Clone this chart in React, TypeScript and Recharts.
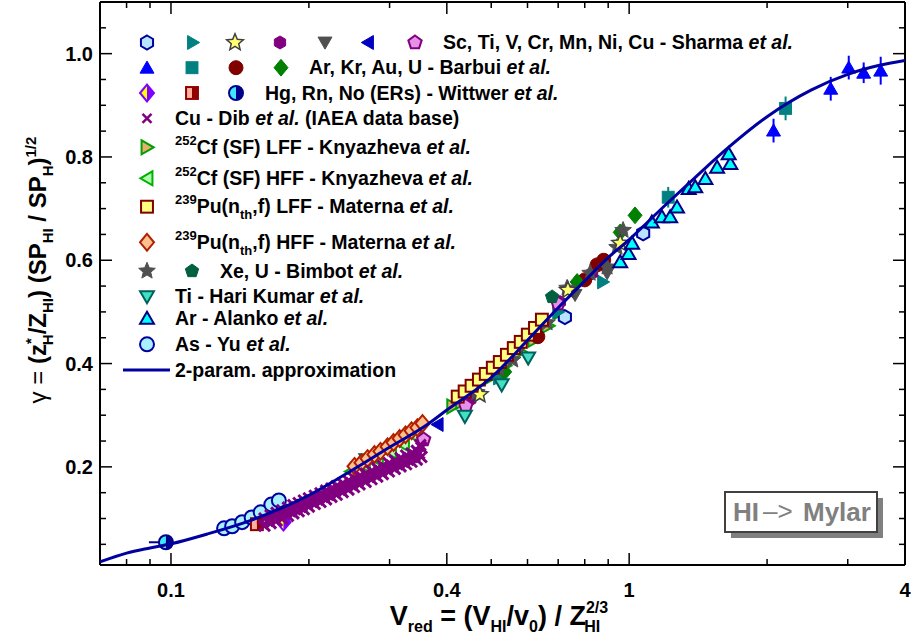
import React from 'react';
import { ScatterChart, Scatter, XAxis, YAxis, ErrorBar } from 'recharts';

const FONT = '"Liberation Sans", Arial, Helvetica, sans-serif';

// axis ticks (log x, linear y); labelled ones listed separately
const xTicks = [0.08, 0.09, 0.1, 0.2, 0.3, 0.4, 0.5, 0.6, 0.7, 0.8, 0.9, 1, 2, 3, 4];
const xLabels = [0.1, 0.4, 1, 4];
const yTicks = [0.05, 0.1, 0.15, 0.2, 0.25, 0.3, 0.35, 0.4, 0.45, 0.5, 0.55, 0.6, 0.65, 0.7, 0.75, 0.8, 0.85, 0.9, 0.95, 1.0, 1.05];
const yLabels = [0.2, 0.4, 0.6, 0.8, 1.0];

// Sharma et al.
const sharmaSc = [[0.724, 0.49], [1.073, 0.652]];
const sharmaTi = [[0.877, 0.558], [0.52, 0.372], [0.7, 0.5]];
const sharmaV = [[0.735, 0.542], [0.956, 0.633], [0.472, 0.34]];
const sharmaCr = [[0.706, 0.519], [0.83, 0.575], [0.45, 0.33]];
const sharmaMn = [[0.762, 0.533], [0.895, 0.575], [0.58, 0.43]];
const sharmaNi = [[0.382, 0.282]];
const sharmaCu = [[0.356, 0.253], [0.7, 0.516], [0.44, 0.318]];

// Barbui et al. (x, y, y-error)
const barbuiAr = [[2.066, 0.851, 0.023], [2.754, 0.932, 0.023], [3.015, 0.973, 0.023], [3.25, 0.963, 0.02], [3.54, 0.967, 0.027]];
const barbuiKr = [[2.195, 0.894, 0.023], [1.217, 0.722, 0.02]];
const barbuiAu = [[0.851, 0.591], [0.8, 0.562], [0.632, 0.452], [0.88, 0.6]];
const barbuiU = [[0.77, 0.558], [0.535, 0.384], [1.03, 0.687], [0.956, 0.654]];

// Wittwer et al.
const wittwerHg = [[0.176, 0.093]];
const wittwerRn = [[0.154, 0.089]];
const wittwerNo = [[0.0975, 0.054]];
const wittwerNoErr = [0.008, 0.0];

// Dib et al. (IAEA data base), Cu
const dibCu = [
  [0.16, 0.086], [0.16, 0.1], [0.165, 0.091], [0.165, 0.106], [0.17, 0.096], [0.17, 0.111],
  [0.175, 0.1], [0.175, 0.116], [0.18, 0.105], [0.18, 0.121], [0.185, 0.11], [0.185, 0.126],
  [0.19, 0.114], [0.19, 0.13], [0.195, 0.118], [0.195, 0.135], [0.2, 0.123], [0.2, 0.139],
  [0.206, 0.128], [0.206, 0.144], [0.212, 0.132], [0.212, 0.149], [0.218, 0.137], [0.218, 0.154],
  [0.224, 0.142], [0.224, 0.158], [0.23, 0.146], [0.23, 0.163], [0.237, 0.151], [0.237, 0.168],
  [0.244, 0.156], [0.244, 0.173], [0.251, 0.161], [0.251, 0.178], [0.258, 0.166], [0.258, 0.182],
  [0.266, 0.171], [0.266, 0.187], [0.274, 0.176], [0.274, 0.192], [0.282, 0.181], [0.282, 0.197],
  [0.29, 0.186], [0.29, 0.202], [0.299, 0.191], [0.299, 0.207], [0.308, 0.196], [0.308, 0.212],
  [0.317, 0.201], [0.317, 0.217], [0.326, 0.205], [0.326, 0.222], [0.335, 0.21], [0.335, 0.226],
  [0.344, 0.214], [0.344, 0.231], [0.352, 0.219], [0.352, 0.237],
  [0.1625, 0.096], [0.1675, 0.101], [0.1725, 0.106], [0.1775, 0.111], [0.1825, 0.116], [0.1875, 0.12],
  [0.1925, 0.124], [0.1975, 0.129], [0.203, 0.134], [0.209, 0.139], [0.215, 0.143], [0.221, 0.148],
  [0.227, 0.152], [0.2335, 0.157], [0.2405, 0.162], [0.2475, 0.167], [0.2545, 0.172], [0.262, 0.177],
  [0.27, 0.182], [0.278, 0.187], [0.286, 0.192], [0.2945, 0.197], [0.3035, 0.202], [0.3125, 0.207],
  [0.3215, 0.211], [0.3305, 0.216], [0.3395, 0.221], [0.348, 0.226], [0.35, 0.242],
];

// 252Cf (SF), Knyazheva et al.
const cfLff = [[0.412, 0.317], [0.431, 0.326], [0.4625, 0.349], [0.496, 0.373], [0.5355, 0.396], [0.5775, 0.423], [0.6195, 0.446], [0.665, 0.473], [0.7065, 0.5]];
const cfHff = [[0.2477, 0.191], [0.2644, 0.203], [0.2823, 0.214], [0.3014, 0.23], [0.3218, 0.243], [0.342, 0.259]];

// 239Pu(nth,f), Materna et al.
const puLff = [[0.4225, 0.336], [0.4375, 0.346], [0.453, 0.357], [0.47, 0.369], [0.4865, 0.38], [0.504, 0.392], [0.522, 0.403], [0.541, 0.417], [0.56, 0.43], [0.58, 0.442], [0.601, 0.456], [0.623, 0.469], [0.645, 0.485]];
const puHff = [[0.2515, 0.201], [0.2605, 0.208], [0.2685, 0.216], [0.278, 0.224], [0.2865, 0.23], [0.297, 0.239], [0.306, 0.247], [0.3155, 0.255], [0.325, 0.262], [0.335, 0.27], [0.345, 0.276], [0.354, 0.284]];

// Bimbot et al.
const bimbotXe = [[0.732, 0.546], [0.822, 0.575], [0.941, 0.625], [0.895, 0.587], [0.662, 0.479], [0.557, 0.407], [0.97, 0.658], [0.465, 0.344], [0.52, 0.39]];
const bimbotU = [[0.679, 0.529]];

// Hari Kumar, Alanko, Yu
const hariKumarTi = [[0.267, 0.214], [0.438, 0.298], [0.527, 0.359], [0.602, 0.411]];
const alankoAr = [[0.956, 0.597], [0.997, 0.613], [1.015, 0.633], [1.121, 0.674], [1.179, 0.684], [1.229, 0.684], [1.272, 0.703], [1.349, 0.739], [1.394, 0.742], [1.467, 0.758], [1.556, 0.78], [1.663, 0.787], [1.649, 0.806]];
const yuAs = [[0.1306, 0.081], [0.136, 0.085], [0.143, 0.093], [0.15, 0.102], [0.157, 0.112], [0.1656, 0.127], [0.172, 0.135]];

// 2-param. approximation
const approxCurve = [
  [0.07, 0.016], [0.08, 0.033], [0.09, 0.043], [0.1, 0.051], [0.12, 0.07], [0.15, 0.097], [0.2, 0.145],
  [0.25, 0.195], [0.3, 0.238], [0.36, 0.28], [0.4, 0.31], [0.5, 0.373], [0.6, 0.445], [0.7, 0.508],
  [0.8, 0.56], [0.9, 0.605], [1.0, 0.64], [1.2, 0.707], [1.4, 0.762], [1.64, 0.817], [2.0, 0.878],
  [2.5, 0.93], [3.0, 0.96], [3.5, 0.977], [4.0, 0.987],
];

const toPts = (arr: number[][]) => arr.map(([x, y, e]) => ({ x, y, ey: e ?? 0 }));

type Kind = 'circle' | 'square' | 'diamond' | 'triU' | 'triD' | 'triL' | 'triR' | 'hex' | 'pent' | 'star' | 'cross' | 'halfDiamond' | 'halfSquare' | 'halfCircle';
interface MStyle { kind: Kind; fill: string; stroke?: string; fill2?: string; sw?: number; r?: number }

const ST: Record<string, MStyle> = {
  sc: { kind: 'hex', fill: '#b8e4ff', stroke: '#00009a', sw: 2 },
  ti: { kind: 'triR', fill: '#008080' },
  v: { kind: 'star', fill: '#ffff70', stroke: '#404040', sw: 1.5 },
  cr: { kind: 'hex', fill: '#800080', r: 6.5 },
  mn: { kind: 'triD', fill: '#505050' },
  ni: { kind: 'triL', fill: '#0000c0' },
  cu: { kind: 'pent', fill: '#e890e8', stroke: '#800080', sw: 2 },
  ar: { kind: 'triU', fill: '#0000ff' },
  kr: { kind: 'square', fill: '#008080' },
  au: { kind: 'circle', fill: '#800000' },
  u: { kind: 'diamond', fill: '#008000' },
  hg: { kind: 'halfDiamond', fill: '#ffff00', fill2: '#8000ff', stroke: '#8000ff', sw: 2 },
  rn: { kind: 'halfSquare', fill: '#ffb0a0', fill2: '#900000', stroke: '#900000', sw: 2 },
  no: { kind: 'halfCircle', fill: '#40e8ff', fill2: '#00008a', stroke: '#00008a', sw: 2 },
  dib: { kind: 'cross', fill: '#800080', sw: 3, r: 5.5 },
  cfL: { kind: 'triR', fill: '#e8b070', stroke: '#00a000', sw: 2 },
  cfH: { kind: 'triL', fill: '#b0ffb0', stroke: '#00b000', sw: 2 },
  puL: { kind: 'square', fill: '#ffff80', stroke: '#800000', sw: 2 },
  puH: { kind: 'diamond', fill: '#ffc090', stroke: '#b02000', sw: 2 },
  xe: { kind: 'star', fill: '#505050' },
  bu: { kind: 'pent', fill: '#006040' },
  hk: { kind: 'triD', fill: '#40e0c0', stroke: '#006060', sw: 2 },
  al: { kind: 'triU', fill: '#00ffff', stroke: '#000080', sw: 2 },
  yu: { kind: 'circle', fill: '#a8f0ff', stroke: '#0000a0', sw: 2 },
};

function poly(cx: number, cy: number, r: number, n: number, rot: number, inner = 0) {
  const total = inner ? n * 2 : n;
  const pts: string[] = [];
  for (let i = 0; i < total; i++) {
    const a = ((rot + (360 / total) * i) * Math.PI) / 180;
    const rr = inner && i % 2 === 1 ? r * inner : r;
    pts.push(`${(cx + rr * Math.cos(a)).toFixed(2)},${(cy + rr * Math.sin(a)).toFixed(2)}`);
  }
  return pts.join(' ');
}

function Marker({ cx, cy, st }: { cx: number; cy: number; st: MStyle }) {
  if (cx == null || cy == null) return <g />;
  const r = st.r ?? 7;
  const stroke = st.stroke ?? st.fill;
  const sw = st.sw ?? 1;
  const base = { fill: st.fill, stroke, strokeWidth: sw };
  switch (st.kind) {
    case 'circle':
      return <circle cx={cx} cy={cy} r={r} {...base} />;
    case 'square': {
      const h = r * 0.85;
      return <rect x={cx - h} y={cy - h} width={2 * h} height={2 * h} {...base} />;
    }
    case 'diamond':
      return <polygon points={`${cx},${cy - r * 1.2} ${cx + r},${cy} ${cx},${cy + r * 1.2} ${cx - r},${cy}`} {...base} />;
    case 'triU':
      return <polygon points={poly(cx, cy + r * 0.2, r * 1.15, 3, -90)} {...base} />;
    case 'triD':
      return <polygon points={poly(cx, cy - r * 0.2, r * 1.15, 3, 90)} {...base} />;
    case 'triL':
      return <polygon points={poly(cx + r * 0.2, cy, r * 1.15, 3, 180)} {...base} />;
    case 'triR':
      return <polygon points={poly(cx - r * 0.2, cy, r * 1.15, 3, 0)} {...base} />;
    case 'hex':
      return <polygon points={poly(cx, cy, r, 6, -90)} {...base} />;
    case 'pent':
      return <polygon points={poly(cx, cy, r, 5, -90)} {...base} />;
    case 'star':
      return <polygon points={poly(cx, cy, r * 1.25, 5, -90, 0.45)} {...base} />;
    case 'cross':
      return (
        <g stroke={st.fill} strokeWidth={sw}>
          <line x1={cx - r} y1={cy - r} x2={cx + r} y2={cy + r} />
          <line x1={cx - r} y1={cy + r} x2={cx + r} y2={cy - r} />
        </g>
      );
    case 'halfDiamond': {
      const t = cy - r * 1.2, b = cy + r * 1.2;
      return (
        <g>
          <polygon points={`${cx},${t} ${cx},${b} ${cx - r},${cy}`} fill={st.fill} />
          <polygon points={`${cx},${t} ${cx + r},${cy} ${cx},${b}`} fill={st.fill2} />
          <polygon points={`${cx},${t} ${cx + r},${cy} ${cx},${b} ${cx - r},${cy}`} fill="none" stroke={stroke} strokeWidth={sw} />
        </g>
      );
    }
    case 'halfSquare': {
      const h = r * 0.85;
      return (
        <g>
          <rect x={cx - h} y={cy - h} width={h} height={2 * h} fill={st.fill} />
          <rect x={cx} y={cy - h} width={h} height={2 * h} fill={st.fill2} />
          <rect x={cx - h} y={cy - h} width={2 * h} height={2 * h} fill="none" stroke={stroke} strokeWidth={sw} />
        </g>
      );
    }
    case 'halfCircle':
      return (
        <g>
          <path d={`M${cx},${cy - r} A${r},${r} 0 0 0 ${cx},${cy + r} Z`} fill={st.fill} />
          <path d={`M${cx},${cy - r} A${r},${r} 0 0 1 ${cx},${cy + r} Z`} fill={st.fill2} />
          <circle cx={cx} cy={cy} r={r} fill="none" stroke={stroke} strokeWidth={sw} />
        </g>
      );
    default:
      return <g />;
  }
}

const near = (list: number[], v: number) => list.some((m) => Math.abs(m - v) < 1e-9);
const labelStyle = { fontFamily: FONT, fontWeight: 700, fontSize: 20, fill: '#000' };

function BottomTick(props: any) {
  const { x, y, payload } = props;
  const major = near(xLabels, payload.value);
  return (
    <g>
      <line x1={x} x2={x} y1={y} y2={y - (major ? 12 : 6)} stroke="#000" strokeWidth={1.5} />
      {major && (
        <text x={x} y={y + 32} textAnchor="middle" style={labelStyle}>
          {String(payload.value)}
        </text>
      )}
    </g>
  );
}

function TopTick(props: any) {
  const { x, y, payload } = props;
  const major = near(xLabels, payload.value);
  return <line x1={x} x2={x} y1={y} y2={y + (major ? 12 : 6)} stroke="#000" strokeWidth={1.5} />;
}

function LeftTick(props: any) {
  const { x, y, payload } = props;
  const major = near(yLabels, payload.value);
  return (
    <g>
      <line x1={x} x2={x + (major ? 12 : 6)} y1={y} y2={y} stroke="#000" strokeWidth={1.5} />
      {major && (
        <text x={x - 7} y={y + 7} textAnchor="end" style={labelStyle}>
          {payload.value.toFixed(1)}
        </text>
      )}
    </g>
  );
}

function RightTick(props: any) {
  const { x, y, payload } = props;
  const major = near(yLabels, payload.value);
  return <line x1={x} x2={x - (major ? 12 : 6)} y1={y} y2={y} stroke="#000" strokeWidth={1.5} />;
}

const axisLine = { stroke: '#000', strokeWidth: 2 };

const series: { key: string; data: number[][]; st: MStyle }[] = [
  { key: 'cfH', data: cfHff, st: ST.cfH },
  { key: 'cfL', data: cfLff, st: ST.cfL },
  { key: 'sc', data: sharmaSc, st: ST.sc },
  { key: 'ti', data: sharmaTi, st: ST.ti },
  { key: 'cr', data: sharmaCr, st: ST.cr },
  { key: 'mn', data: sharmaMn, st: ST.mn },
  { key: 'ni', data: sharmaNi, st: ST.ni },
  { key: 'cu', data: sharmaCu, st: ST.cu },
  { key: 'au', data: barbuiAu, st: ST.au },
  { key: 'u', data: barbuiU, st: ST.u },
  { key: 'xe', data: bimbotXe, st: ST.xe },
  { key: 'v', data: sharmaV, st: ST.v },
  { key: 'bu', data: bimbotU, st: ST.bu },
  { key: 'hk', data: hariKumarTi, st: ST.hk },
  { key: 'puH', data: puHff, st: ST.puH },
  { key: 'puL', data: puLff, st: ST.puL },
  { key: 'al', data: alankoAr, st: ST.al },
  { key: 'yu', data: yuAs, st: ST.yu },
  { key: 'hg', data: wittwerHg, st: ST.hg },
  { key: 'rn', data: wittwerRn, st: ST.rn },
  { key: 'dib', data: dibCu, st: ST.dib },
];

const shapeOf = (st: MStyle) => (p: any) => <Marker cx={p.cx} cy={p.cy} st={st} />;
const noShape = () => <g />;

const legendText = { fontFamily: FONT, fontWeight: 700, fontSize: 19.5, fill: '#000' };
const it = { fontStyle: 'italic' as const };

function LegendBlock() {
  const sup = (t: string) => (
    <tspan fontSize={13} dy={-9}>{t}</tspan>
  );
  return (
    <g>
      {[['sc', 147], ['ti', 193], ['v', 235], ['cr', 280], ['mn', 325], ['ni', 368], ['cu', 415]].map(([k, x]) => (
        <Marker key={k as string} cx={x as number} cy={42.5} st={ST[k as string]} />
      ))}
      <text x={443} y={49} style={legendText}>Sc, Ti, V, Cr, Mn, Ni, Cu - Sharma <tspan {...it}>et al.</tspan></text>
      {[['ar', 147], ['kr', 192], ['au', 236], ['u', 281]].map(([k, x]) => (
        <Marker key={k as string} cx={x as number} cy={67.7} st={ST[k as string]} />
      ))}
      <text x={309} y={74} style={legendText}>Ar, Kr, Au, U - Barbui <tspan {...it}>et al.</tspan></text>
      {[['hg', 147], ['rn', 192], ['no', 236]].map(([k, x]) => (
        <Marker key={k as string} cx={x as number} cy={93} st={ST[k as string]} />
      ))}
      <text x={265} y={99.5} style={legendText}>Hg, Rn, No (ERs) - Wittwer <tspan {...it}>et al.</tspan></text>
      <Marker cx={147} cy={118.3} st={{ ...ST.dib, r: 4.5, sw: 2.5 }} />
      <text x={175} y={124.5} style={legendText}>Cu - Dib <tspan {...it}>et al.</tspan> (IAEA data base)</text>
      <Marker cx={147} cy={147.3} st={ST.cfL} />
      <text x={175} y={153.5} style={legendText}>{sup('252')}<tspan dy={9}>Cf (SF) LFF - Knyazheva </tspan><tspan {...it}>et al.</tspan></text>
      <Marker cx={147} cy={178.3} st={ST.cfH} />
      <text x={175} y={184.5} style={legendText}>{sup('252')}<tspan dy={9}>Cf (SF) HFF - Knyazheva </tspan><tspan {...it}>et al.</tspan></text>
      <Marker cx={147} cy={206.7} st={ST.puL} />
      <text x={175} y={213} style={legendText}>
        {sup('239')}<tspan dy={9}>Pu(n</tspan><tspan fontSize={13} dy={6}>th</tspan><tspan dy={-6}>,f) LFF - Materna </tspan><tspan {...it}>et al.</tspan>
      </text>
      <Marker cx={147} cy={242.3} st={ST.puH} />
      <text x={175} y={248.5} style={legendText}>
        {sup('239')}<tspan dy={9}>Pu(n</tspan><tspan fontSize={13} dy={6}>th</tspan><tspan dy={-6}>,f) HFF - Materna </tspan><tspan {...it}>et al.</tspan>
      </text>
      <Marker cx={147} cy={271} st={ST.xe} />
      <Marker cx={192} cy={271} st={ST.bu} />
      <text x={220} y={277.5} style={legendText}>Xe, U - Bimbot <tspan {...it}>et al.</tspan></text>
      <Marker cx={147} cy={296.7} st={ST.hk} />
      <text x={175} y={303} style={legendText}>Ti - Hari Kumar <tspan {...it}>et al.</tspan></text>
      <Marker cx={147} cy={318.3} st={ST.al} />
      <text x={175} y={325} style={legendText}>Ar - Alanko <tspan {...it}>et al.</tspan></text>
      <Marker cx={147} cy={344.3} st={ST.yu} />
      <text x={175} y={350.5} style={legendText}>As - Yu <tspan {...it}>et al.</tspan></text>
      <line x1={123} x2={170} y1={370} y2={370} stroke="#0000a0" strokeWidth={3} />
      <text x={175} y={376.5} style={legendText}>2-param. approximation</text>
    </g>
  );
}

function Titles() {
  const t = { fontFamily: FONT, fontWeight: 700, fill: '#000' };
  const boxText = { fontFamily: FONT, fontSize: 26, fill: '#808080' };
  return (
    <g>
      <text x={499} y={625} textAnchor="middle" style={{ ...t, fontSize: 27 }}>
        V<tspan fontSize={16} dy={7}>red</tspan>
        <tspan dy={-7}> = (V</tspan><tspan fontSize={16} dy={7}>HI</tspan>
        <tspan dy={-7}>/v</tspan><tspan fontSize={16} dy={7}>0</tspan>
        <tspan dy={-7}>) / Z</tspan><tspan fontSize={16} dy={-12}>2/3</tspan>
        <tspan fontSize={16} dx={-24} dy={19}>HI</tspan>
      </text>
      <text transform="translate(46,270) rotate(-90)" textAnchor="middle" style={{ ...t, fontSize: 24 }}>
        <tspan fontWeight={400}>γ = </tspan>(z<tspan fontSize={15} dy={-10}>*</tspan>
        <tspan fontSize={15} dx={-7} dy={17}>H</tspan>
        <tspan dy={-7}>/Z</tspan><tspan fontSize={15} dy={7}>HI</tspan>
        <tspan dy={-7}>) (SP</tspan><tspan fontSize={15} dy={7}>HI</tspan>
        <tspan dy={-7}> / SP</tspan><tspan fontSize={15} dy={7}>H</tspan>
        <tspan dy={-7}>)</tspan><tspan fontSize={15} dy={-10}>1/2</tspan>
      </text>
      <rect x={731} y={498} width={152} height={40} fill="#808080" />
      <rect x={725} y={492} width={152} height={40} fill="#fff" stroke="#404040" strokeWidth={2} />
      <text x={733} y={521} style={{ ...boxText, fontWeight: 700 }}>HI</text>
      <text x={763} y={520} style={{ ...boxText, fontWeight: 400 }}>–&gt;</text>
      <text x={803} y={521} style={{ ...boxText, fontWeight: 700 }}>Mylar</text>
    </g>
  );
}

export default function App() {
  const curve = toPts(approxCurve);
  const noPts = wittwerNo.map(([x, y]) => ({ x, y, ex: wittwerNoErr }));
  return (
    <div style={{ position: 'absolute', left: 0, top: 0, width: 911, height: 643, background: '#fff' }}>
      <ScatterChart width={911} height={643} margin={{ top: 1, right: 5, bottom: 18, left: 40 }}>
        <XAxis type="number" dataKey="x" scale="log" domain={[0.07, 4]} allowDataOverflow ticks={xTicks} interval={0}
          tickSize={0} tickMargin={0} tick={<BottomTick />} axisLine={axisLine} height={60} />
        <XAxis xAxisId="t" orientation="top" type="number" dataKey="x" scale="log" domain={[0.07, 4]} allowDataOverflow
          ticks={xTicks} interval={0} tickSize={0} tickMargin={0} tick={<TopTick />} axisLine={axisLine} height={1} />
        <YAxis type="number" dataKey="y" domain={[0.01, 1.1]} allowDataOverflow ticks={yTicks} interval={0}
          tickSize={0} tickMargin={0} tick={<LeftTick />} axisLine={axisLine} width={60} />
        <YAxis yAxisId="r" orientation="right" type="number" dataKey="y" domain={[0.01, 1.1]} allowDataOverflow ticks={yTicks}
          interval={0} tickSize={0} tickMargin={0} tick={<RightTick />} axisLine={axisLine} width={1} />
        <Scatter xAxisId="t" yAxisId="r" data={curve} shape={noShape} isAnimationActive={false} />
        {series.map((s) => (
          <Scatter key={s.key} data={toPts(s.data)} shape={shapeOf(s.st)} isAnimationActive={false} />
        ))}
        <Scatter data={toPts(barbuiKr)} shape={shapeOf(ST.kr)} isAnimationActive={false}>
          <ErrorBar dataKey="ey" direction="y" width={0} stroke="#008080" strokeWidth={2} />
        </Scatter>
        <Scatter data={toPts(barbuiAr)} shape={shapeOf(ST.ar)} isAnimationActive={false}>
          <ErrorBar dataKey="ey" direction="y" width={0} stroke="#0000ff" strokeWidth={2} />
        </Scatter>
        <Scatter data={noPts} shape={shapeOf(ST.no)} isAnimationActive={false}>
          <ErrorBar dataKey="ex" direction="x" width={0} stroke="#00008a" strokeWidth={2} />
        </Scatter>
        <Scatter data={curve} shape={noShape} line={{ stroke: '#0000a0', strokeWidth: 3 }} lineJointType="monotoneX"
          isAnimationActive={false} />
      </ScatterChart>
      <svg width={911} height={643} style={{ position: 'absolute', left: 0, top: 0, pointerEvents: 'none' }}>
        <LegendBlock />
        <Titles />
      </svg>
    </div>
  );
}
